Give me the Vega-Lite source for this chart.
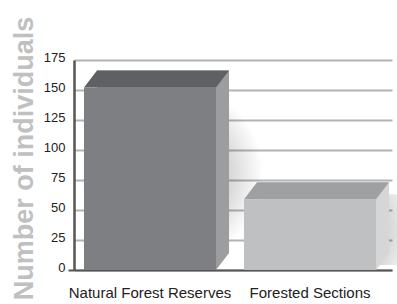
{
  "$schema": "https://vega.github.io/schema/vega-lite/v6.json",
  "width": 318,
  "height": 210,
  "autosize": "none",
  "padding": {"left": 74, "top": 60, "right": 5, "bottom": 34},
  "background": "white",
  "config": {"view": {"stroke": null}, "font": "Liberation Sans"},
  "data": {"values": [
    {"site": "Natural Forest Reserves", "individuals": 152},
    {"site": "Forested Sections", "individuals": 59}
  ]},
  "encoding": {
    "x": {
      "field": "site", "type": "nominal", "sort": null,
      "scale": {"paddingInner": 0.175, "paddingOuter": 0.081, "align": 0.385},
      "axis": {"title": null, "labelAngle": 0, "labelFontSize": 15, "labelColor": "#222222", "ticks": false, "labelPadding": 15, "domainColor": "#555555", "domainWidth": 2, "grid": false}
    },
    "y": {
      "field": "individuals", "type": "quantitative",
      "scale": {"domain": [0, 175]},
      "axis": {
        "values": [0, 25, 50, 75, 100, 125, 150, 175],
        "grid": true, "gridColor": "#b3b3b3", "gridWidth": 2,
        "domainColor": "#555555", "domainWidth": 2.5,
        "tickColor": {"condition": {"test": "datum.value === 0", "value": "#555555"}, "value": "transparent"},
        "tickSize": 6, "tickWidth": 2,
        "labelFontSize": 13, "labelColor": "#222222", "labelPadding": 3, "labelOffset": -3,
        "title": "Number of individuals", "titleFontSize": 27, "titleFontWeight": "bold", "titleColor": "#c0c0c0",
        "titleAngle": -90, "titleX": -42, "titleY": 98, "titleAlign": "center", "titleBaseline": "alphabetic"
      }
    }
  },
  "layer": [
    {
      "mark": {
        "type": "bar", "width": 180, "xOffset": 22, "yOffset": -5, "y2Offset": 28,
        "fill": {"gradient": "radial", "x1": 0.5, "y1": 0.5, "r1": 0, "x2": 0.5, "y2": 0.5, "r2": 0.5, "stops": [
          {"offset": 0, "color": "rgba(0,0,0,0.2)"},
          {"offset": 0.65, "color": "rgba(0,0,0,0.15)"},
          {"offset": 1, "color": "rgba(0,0,0,0)"}
        ]}
      }
    },
    {
      "mark": {"type": "bar", "xOffset": 13, "yOffset": -17, "y2Offset": -17},
      "encoding": {"color": {"field": "site", "type": "nominal", "sort": null, "scale": {"range": ["#9d9d9f", "#d6d6d7"]}, "legend": null}}
    },
    {
      "mark": {"type": "point", "shape": "M 66 0 L 66 -17 L 79 -17 Z", "size": 4, "filled": true, "opacity": 1, "strokeWidth": 0},
      "encoding": {
        "y": {"datum": 0, "type": "quantitative"},
        "color": {"field": "site", "type": "nominal", "sort": null, "scale": {"range": ["#9d9d9f", "#d6d6d7"]}, "legend": null}
      }
    },
    {
      "mark": {"type": "point", "shape": "M -66 0 L 66 0 L 79 -17 L -53 -17 Z", "size": 4, "filled": true, "opacity": 1, "strokeWidth": 0},
      "encoding": {"color": {"field": "site", "type": "nominal", "sort": null, "scale": {"range": ["#5f6063", "#9fa0a2"]}, "legend": null}}
    },
    {
      "mark": {"type": "bar"},
      "encoding": {"color": {"field": "site", "type": "nominal", "sort": null, "scale": {"range": ["#7e7f82", "#bfc0c2"]}, "legend": null}}
    }
  ],
  "resolve": {"scale": {"color": "independent"}}
}
